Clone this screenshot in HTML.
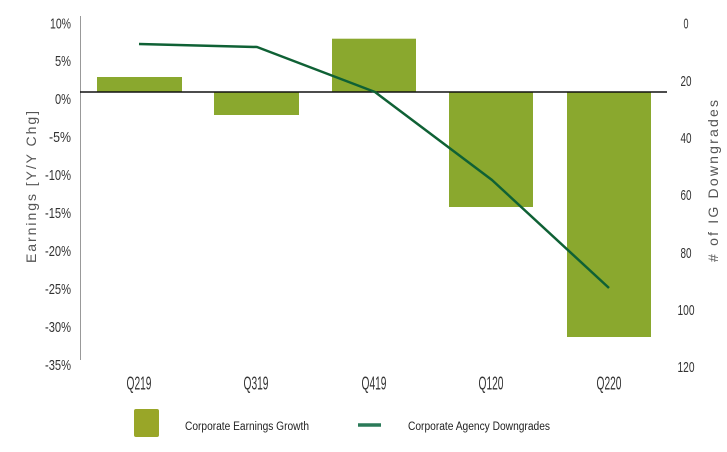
<!DOCTYPE html>
<html>
<head>
<meta charset="utf-8">
<style>
html,body{margin:0;padding:0;background:#fff;}
svg{display:block;}
text{font-family:"Liberation Sans",sans-serif;}
</style>
</head>
<body>
<svg width="727" height="452" viewBox="0 0 727 452" xmlns="http://www.w3.org/2000/svg">
<rect width="727" height="452" fill="#fff"/>
<!-- left axis -->
<line x1="80.5" y1="16" x2="80.5" y2="360" stroke="#999" stroke-width="1"/>
<!-- bars -->
<g fill="#8aa82e">
<rect x="97" y="77" width="85" height="15"/>
<rect x="214" y="92" width="85" height="23"/>
<rect x="332" y="38.7" width="84" height="53.3"/>
<rect x="449" y="92" width="84" height="115"/>
<rect x="567" y="92" width="84" height="245"/>
</g>
<!-- zero line -->
<line x1="80" y1="92" x2="667" y2="92" stroke="#111" stroke-width="1.6"/>
<!-- downgrades line -->
<polyline points="139,44 257,47 375,92 492,180 609,288" fill="none" stroke="#0f6135" stroke-width="2.5" stroke-linejoin="round"/>
<!-- left tick labels -->
<g font-size="15" fill="#333" text-anchor="end">
<text x="71" y="28.5" textLength="21" lengthAdjust="spacingAndGlyphs">10%</text>
<text x="71" y="66" textLength="16" lengthAdjust="spacingAndGlyphs">5%</text>
<text x="71" y="104" textLength="16" lengthAdjust="spacingAndGlyphs">0%</text>
<text x="71" y="142" textLength="22" lengthAdjust="spacingAndGlyphs">-5%</text>
<text x="71" y="180" textLength="26" lengthAdjust="spacingAndGlyphs">-10%</text>
<text x="71" y="218" textLength="26" lengthAdjust="spacingAndGlyphs">-15%</text>
<text x="71" y="256" textLength="26" lengthAdjust="spacingAndGlyphs">-20%</text>
<text x="71" y="294" textLength="26" lengthAdjust="spacingAndGlyphs">-25%</text>
<text x="71" y="332" textLength="26" lengthAdjust="spacingAndGlyphs">-30%</text>
<text x="71" y="370" textLength="26" lengthAdjust="spacingAndGlyphs">-35%</text>
</g>
<!-- right tick labels -->
<g font-size="15" fill="#333" text-anchor="middle">
<text x="686" y="28.5" textLength="5" lengthAdjust="spacingAndGlyphs">0</text>
<text x="686" y="86" textLength="11" lengthAdjust="spacingAndGlyphs">20</text>
<text x="686" y="143" textLength="11" lengthAdjust="spacingAndGlyphs">40</text>
<text x="686" y="200" textLength="11" lengthAdjust="spacingAndGlyphs">60</text>
<text x="686" y="258" textLength="11" lengthAdjust="spacingAndGlyphs">80</text>
<text x="686" y="315" textLength="17" lengthAdjust="spacingAndGlyphs">100</text>
<text x="686" y="372" textLength="17" lengthAdjust="spacingAndGlyphs">120</text>
</g>
<!-- x labels -->
<g font-size="18" fill="#333" text-anchor="middle">
<text x="139" y="389.5" textLength="25" lengthAdjust="spacingAndGlyphs">Q219</text>
<text x="256" y="389.5" textLength="25" lengthAdjust="spacingAndGlyphs">Q319</text>
<text x="374" y="389.5" textLength="25" lengthAdjust="spacingAndGlyphs">Q419</text>
<text x="491" y="389.5" textLength="25" lengthAdjust="spacingAndGlyphs">Q120</text>
<text x="609" y="389.5" textLength="25" lengthAdjust="spacingAndGlyphs">Q220</text>
</g>
<!-- axis titles -->
<text transform="translate(36,187) rotate(-90)" font-size="14" fill="#555" text-anchor="middle" textLength="152" lengthAdjust="spacing">Earnings [Y/Y Chg]</text>
<text transform="translate(718,181) rotate(-90)" font-size="14" fill="#555" text-anchor="middle" textLength="162" lengthAdjust="spacing"># of IG Downgrades</text>
<!-- legend -->
<rect x="134" y="409" width="25" height="28" rx="2" fill="#99a628"/>
<text x="185" y="430" font-size="11.5" fill="#222" textLength="124" lengthAdjust="spacingAndGlyphs">Corporate Earnings Growth</text>
<line x1="358" y1="425" x2="381" y2="425" stroke="#2a7a58" stroke-width="3.5"/>
<text x="408" y="430" font-size="11.5" fill="#222" textLength="142" lengthAdjust="spacingAndGlyphs">Corporate Agency Downgrades</text>
</svg>
</body>
</html>
